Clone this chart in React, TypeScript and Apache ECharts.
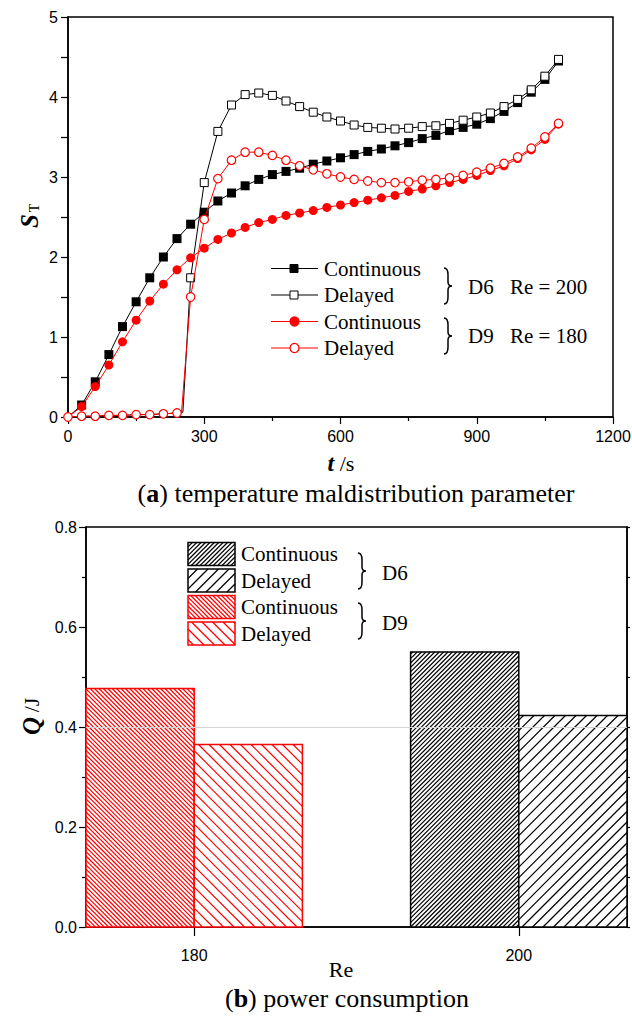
import React, { useEffect, useRef } from "react";
import * as echarts from "echarts";

// ---------- (a) temperature maldistribution parameter ----------
const time = [0, 30, 60, 90, 120, 150, 180, 210, 240, 270, 300, 330, 360, 390, 420, 450, 480, 510, 540, 570, 600, 630, 660, 690, 720, 750, 780, 810, 840, 870, 900, 930, 960, 990, 1020, 1050, 1080];
const d6Continuous = [0, 0.15, 0.44, 0.78, 1.13, 1.44, 1.74, 2.0, 2.23, 2.41, 2.56, 2.7, 2.8, 2.89, 2.97, 3.03, 3.07, 3.11, 3.16, 3.2, 3.24, 3.28, 3.32, 3.35, 3.39, 3.43, 3.48, 3.52, 3.58, 3.62, 3.66, 3.73, 3.82, 3.93, 4.06, 4.22, 4.45];
const d6Delayed = [0, 0.01, 0.01, 0.02, 0.02, 0.03, 0.03, 0.04, 0.05, 1.74, 2.93, 3.57, 3.9, 4.03, 4.05, 4.02, 3.95, 3.88, 3.81, 3.75, 3.7, 3.65, 3.62, 3.61, 3.6, 3.61, 3.63, 3.64, 3.67, 3.71, 3.75, 3.8, 3.88, 3.97, 4.09, 4.26, 4.47];
const d9Continuous = [0, 0.13, 0.38, 0.65, 0.94, 1.21, 1.45, 1.66, 1.84, 1.99, 2.11, 2.22, 2.3, 2.37, 2.43, 2.47, 2.52, 2.55, 2.58, 2.62, 2.65, 2.68, 2.71, 2.74, 2.77, 2.82, 2.85, 2.89, 2.93, 2.97, 3.02, 3.08, 3.14, 3.23, 3.34, 3.47, 3.66];
const d9Delayed = [0, 0.01, 0.01, 0.02, 0.02, 0.03, 0.03, 0.04, 0.05, 1.5, 2.47, 2.98, 3.21, 3.31, 3.31, 3.27, 3.21, 3.14, 3.09, 3.04, 3.0, 2.97, 2.95, 2.93, 2.93, 2.94, 2.96, 2.97, 2.99, 3.02, 3.06, 3.11, 3.17, 3.25, 3.36, 3.5, 3.67];
// visible start of the steep rise of the delayed curves (line vertex, no marker)
const d6Onset = [253, 0.06];
const d9Onset = [250, 0.06];
const xTicksA = [0, 300, 600, 900, 1200];
const yTicksA = [0, 1, 2, 3, 4, 5];

// ---------- (b) power consumption ----------
const reValues = [180, 200];
const groupNames = ["D9", "D6"];
const qContinuous = [0.477, 0.55];
const qDelayed = [0.365, 0.423];
const barWidthRe = 20 / 3;
const gridLineQ = 0.4;

const SERIF_NAME = '"Liberation Serif"';
const SERIF = '"Liberation Serif", "Times New Roman", serif';
const SANS = '"Liberation Sans", Arial, sans-serif';
const RED = "#ff0000";
const serifFont = (size: number, extra = "") => `${extra ? extra + " " : ""}${size}px ${SERIF_NAME}, serif`;

echarts.graphic.registerShape(
  "brace",
  echarts.graphic.extendPath(
    "M0,0 C3,0 4,2 4,7 L4,14 C4,16.5 5,18 8,18 C5,18 4,19.5 4,22 L4,29 C4,34 3,36 0,36",
    {}
  )
);

function hatch(x0: number, y0: number, x1: number, y1: number, step: number, dir: string, color: string, lw: number) {
  const out: any[] = [];
  if (dir === "fwd") {
    const cStart = Math.ceil((x0 + y0) / step) * step;
    for (let c = cStart; c <= x1 + y1; c += step) {
      const xa = Math.max(x0, c - y1);
      const xb = Math.min(x1, c - y0);
      if (xb - xa > 0.3)
        out.push({ type: "line", shape: { x1: xa, y1: c - xa, x2: xb, y2: c - xb }, style: { stroke: color, lineWidth: lw } });
    }
  } else {
    const cStart = Math.ceil((y0 - x1) / step) * step;
    for (let c = cStart; c <= y1 - x0; c += step) {
      const xa = Math.max(x0, y0 - c);
      const xb = Math.min(x1, y1 - c);
      if (xb - xa > 0.3)
        out.push({ type: "line", shape: { x1: xa, y1: xa + c, x2: xb, y2: xb + c }, style: { stroke: color, lineWidth: lw } });
    }
  }
  return out;
}

const styleOf = (group: string) => (group === "D9" ? { color: RED, dir: "back" } : { color: "#000", dir: "fwd" });
const DENSE = 4.4;
const SPARSE = 10.5;

function hatchedRect(x: number, y: number, w: number, h: number, color: string, dir: string, step: number) {
  return [
    { type: "rect", shape: { x, y, width: w, height: h }, style: { fill: "#fff", stroke: null } },
    ...hatch(x, y, x + w, y + h, step, dir, color, 1.2),
    { type: "rect", shape: { x, y, width: w, height: h }, style: { fill: "none", stroke: color, lineWidth: 1.5 } },
  ];
}

function buildLine(values: number[], onset: number[] | null, markerFrom: number, zeroMarker: boolean) {
  const items: any[] = [];
  time.forEach((t, i) => {
    if (onset && t > onset[0] && items.length && items[items.length - 1].value[0] < onset[0]) {
      items.push({ value: onset, symbol: "none" });
    }
    const hide = t < markerFrom || (t === 0 && !zeroMarker);
    items.push(hide ? { value: [t, values[i]], symbol: "none" } : { value: [t, values[i]] });
  });
  return items;
}

function barRender(mode: "continuous" | "delayed") {
  return (params: any, api: any) => {
    const i = params.dataIndex;
    const re = api.value(0);
    const q = api.value(1);
    const base = api.coord([re, 0]);
    const top = api.coord([re, q]);
    const w = api.size([barWidthRe, 0])[0];
    const x0 = mode === "continuous" ? base[0] - w : base[0];
    const st = styleOf(groupNames[i]);
    return {
      type: "group",
      children: hatchedRect(x0, top[1], w, base[1] - top[1], st.color, st.dir, mode === "continuous" ? DENSE : SPARSE),
    };
  };
}

const txt = (x: number, y: number, text: string, size = 21, align = "left") => ({
  type: "text", x, y,
  style: { text, font: serifFont(size), fill: "#000", align, verticalAlign: "middle" },
});

function legendA() {
  const rows = [
    { y: 268.5, label: "Continuous", shape: "rect", fill: "#000", stroke: "#000", lc: "#000" },
    { y: 295, label: "Delayed", shape: "rect", fill: "#fff", stroke: "#000", lc: "#000" },
    { y: 321.5, label: "Continuous", shape: "circle", fill: RED, stroke: RED, lc: RED },
    { y: 348, label: "Delayed", shape: "circle", fill: "#fff", stroke: RED, lc: RED },
  ];
  const els: any[] = [];
  rows.forEach((r) => {
    els.push({ type: "line", shape: { x1: 271, y1: r.y, x2: 318, y2: r.y }, style: { stroke: r.lc, lineWidth: 1.2 } });
    if (r.shape === "rect") {
      els.push({ type: "rect", shape: { x: 290, y: r.y - 4, width: 8, height: 8 }, style: { fill: r.fill, stroke: r.stroke, lineWidth: 1 } });
    } else {
      els.push({ type: "circle", shape: { cx: 294.5, cy: r.y, r: 4.5 }, style: { fill: r.fill, stroke: r.stroke, lineWidth: 1.2 } });
    }
    els.push(txt(324, r.y, r.label));
  });
  els.push({ type: "brace", x: 444, y: 268, style: { fill: "none", stroke: "#000", lineWidth: 1.5 } });
  els.push({ type: "brace", x: 444, y: 318, style: { fill: "none", stroke: "#000", lineWidth: 1.5 } });
  els.push(txt(468, 287, "D6"));
  els.push(txt(510, 287, "Re = 200"));
  els.push(txt(468, 336, "D9"));
  els.push(txt(510, 336, "Re = 180"));
  return els;
}

function legendB() {
  const rows = [
    { y: 542.5, label: "Continuous", group: "D6", step: DENSE },
    { y: 569, label: "Delayed", group: "D6", step: SPARSE },
    { y: 595.5, label: "Continuous", group: "D9", step: DENSE },
    { y: 622, label: "Delayed", group: "D9", step: SPARSE },
  ];
  const els: any[] = [];
  rows.forEach((r) => {
    const st = styleOf(r.group);
    els.push({ type: "group", children: hatchedRect(188, r.y, 47, 23, st.color, st.dir, r.step) });
    els.push(txt(241, r.y + 11.5, r.label));
  });
  els.push({ type: "brace", x: 358, y: 553, style: { fill: "none", stroke: "#000", lineWidth: 1.5 } });
  els.push({ type: "brace", x: 358, y: 603, style: { fill: "none", stroke: "#000", lineWidth: 1.5 } });
  els.push(txt(382, 573, "D6"));
  els.push(txt(382, 623, "D9"));
  return els;
}

function titles() {
  return [
    {
      type: "group", x: 29, y: 218, rotation: Math.PI / 2,
      children: [
        { type: "text", x: -3, y: 0, style: { text: "S", font: serifFont(25, "italic bold"), fill: "#000", align: "center", verticalAlign: "middle" } },
        { type: "text", x: 10, y: 5, style: { text: "T", font: serifFont(14), fill: "#000", align: "center", verticalAlign: "middle" } },
      ],
    },
    {
      type: "text", x: 341, y: 463,
      style: {
        text: "{bi|t}{r| /s}", align: "center", verticalAlign: "middle",
        rich: {
          bi: { fontFamily: SERIF, fontSize: 24, fontWeight: "bold", fontStyle: "italic", fill: "#000" },
          r: { fontFamily: SERIF, fontSize: 22, fill: "#000" },
        },
      },
    },
    {
      type: "text", x: 356, y: 493,
      style: {
        text: "{r|(}{b|a}{r|) temperature maldistribution parameter}", align: "center", verticalAlign: "middle",
        rich: {
          b: { fontFamily: SERIF, fontSize: 26, fontWeight: "bold", fill: "#000" },
          r: { fontFamily: SERIF, fontSize: 26, fill: "#000" },
        },
      },
    },
    {
      type: "group", x: 31, y: 717, rotation: Math.PI / 2,
      children: [
        { type: "text", x: -9, y: 0, style: { text: "Q", font: serifFont(25, "italic bold"), fill: "#000", align: "center", verticalAlign: "middle" } },
        { type: "text", x: 12, y: 0, style: { text: "/J", font: serifFont(22), fill: "#000", align: "center", verticalAlign: "middle" } },
      ],
    },
    txt(341, 969, "Re", 22, "center"),
    {
      type: "text", x: 347, y: 998,
      style: {
        text: "{r|(}{b|b}{r|) power consumption}", align: "center", verticalAlign: "middle",
        rich: {
          b: { fontFamily: SERIF, fontSize: 26, fontWeight: "bold", fill: "#000" },
          r: { fontFamily: SERIF, fontSize: 26, fill: "#000" },
        },
      },
    },
  ];
}

const axisLine = { show: true, onZero: false, lineStyle: { color: "#000", width: 1.5 } };
const tickStyle = { color: "#000", width: 1.2 };
const labelStyle = { color: "#000", fontFamily: SANS, fontSize: 16 };

export default function App() {
  const ref = useRef<HTMLDivElement>(null);
  useEffect(() => {
    document.body.style.margin = "0";
    if (!ref.current) return;
    const chart = echarts.init(ref.current, null, { renderer: "svg" });
    const lineBase = { type: "line", xAxisIndex: 0, yAxisIndex: 0, showAllSymbol: true, smooth: false, clip: false };
    const option: any = {
      animation: false,
      backgroundColor: "#fff",
      grid: [
        { left: 68, top: 17, width: 545, height: 400, show: true, borderColor: "#000", borderWidth: 1.5, backgroundColor: "transparent", outerBoundsMode: "none", containLabel: false },
        { left: 86, top: 527, width: 541, height: 400, show: true, borderColor: "#000", borderWidth: 1.5, backgroundColor: "transparent", outerBoundsMode: "none", containLabel: false },
      ],
      xAxis: [
        {
          gridIndex: 0, type: "value", min: xTicksA[0], max: xTicksA[xTicksA.length - 1], interval: xTicksA[1] - xTicksA[0],
          axisLine, axisTick: { show: true, inside: false, length: 7, lineStyle: tickStyle },
          minorTick: { show: true, splitNumber: 2, length: 4, lineStyle: tickStyle },
          axisLabel: { ...labelStyle, margin: 11, formatter: (v: number) => String(v) },
          splitLine: { show: false }, minorSplitLine: { show: false },
        },
        {
          gridIndex: 1, type: "value", min: reValues[0] - barWidthRe, max: reValues[1] + barWidthRe,
          axisLine, axisTick: { show: true, inside: false, length: 9, lineStyle: tickStyle, customValues: reValues },
          axisLabel: { ...labelStyle, margin: 20, customValues: reValues, formatter: (v: number) => String(v) },
          splitLine: { show: false },
        },
      ],
      yAxis: [
        {
          gridIndex: 0, type: "value", min: yTicksA[0], max: yTicksA[yTicksA.length - 1], interval: 1,
          axisLine, axisTick: { show: true, inside: false, length: 7, lineStyle: tickStyle },
          minorTick: { show: true, splitNumber: 2, length: 7, lineStyle: tickStyle },
          axisLabel: { ...labelStyle, margin: 10 }, splitLine: { show: false }, minorSplitLine: { show: false },
        },
        {
          gridIndex: 1, type: "value", min: 0, max: 0.8, interval: 0.2,
          axisLine, axisTick: { show: true, inside: false, length: 7, lineStyle: tickStyle },
          minorTick: { show: true, splitNumber: 2, length: 4, lineStyle: tickStyle },
          axisLabel: { ...labelStyle, margin: 9, formatter: (v: number) => v.toFixed(1) },
          splitLine: { show: false }, minorSplitLine: { show: false },
        },
        {
          gridIndex: 1, type: "value", position: "right", min: 0, max: 0.8, interval: 0.1,
          axisLine, axisTick: { show: true, inside: false, length: 3, lineStyle: tickStyle },
          axisLabel: { show: false }, splitLine: { show: false },
        },
      ],
      series: [
        {
          ...lineBase, name: "D6 Continuous", data: buildLine(d6Continuous, null, 30, false),
          symbol: "rect", symbolSize: 9, lineStyle: { color: "#000", width: 1 }, itemStyle: { color: "#000" }, z: 2,
        },
        {
          ...lineBase, name: "D6 Delayed", data: buildLine(d6Delayed, d6Onset, 270, false),
          symbol: "rect", symbolSize: 8, lineStyle: { color: "#000", width: 1 }, itemStyle: { color: "#fff", borderColor: "#000", borderWidth: 1 }, z: 3,
        },
        {
          ...lineBase, name: "D9 Continuous", data: buildLine(d9Continuous, null, 30, false),
          symbol: "circle", symbolSize: 9, lineStyle: { color: RED, width: 1 }, itemStyle: { color: RED }, z: 4,
        },
        {
          ...lineBase, name: "D9 Delayed", data: buildLine(d9Delayed, d9Onset, 0, true),
          symbol: "circle", symbolSize: 8.5, lineStyle: { color: RED, width: 1 }, itemStyle: { color: "#fff", borderColor: RED, borderWidth: 1.2 }, z: 5,
        },
        {
          type: "custom", name: "Continuous", xAxisIndex: 1, yAxisIndex: 1,
          data: reValues.map((re, i) => [re, qContinuous[i]]), encode: { x: 0, y: 1 },
          renderItem: barRender("continuous"), z: 2,
        },
        {
          type: "custom", name: "Delayed", xAxisIndex: 1, yAxisIndex: 1,
          data: reValues.map((re, i) => [re, qDelayed[i]]), encode: { x: 0, y: 1 },
          renderItem: barRender("delayed"), z: 2,
          markLine: {
            silent: true, symbol: ["none", "none"], label: { show: false },
            lineStyle: { color: "#d4d4d4", width: 1, type: "solid" },
            data: [{ yAxis: gridLineQ }],
          },
        },
      ],
      graphic: { elements: [...legendA(), ...legendB(), ...titles()] },
    };
    chart.setOption(option);
    return () => chart.dispose();
  }, []);
  return <div ref={ref} style={{ position: "absolute", left: 0, top: 0, width: 632, height: 1016 }} />;
}
